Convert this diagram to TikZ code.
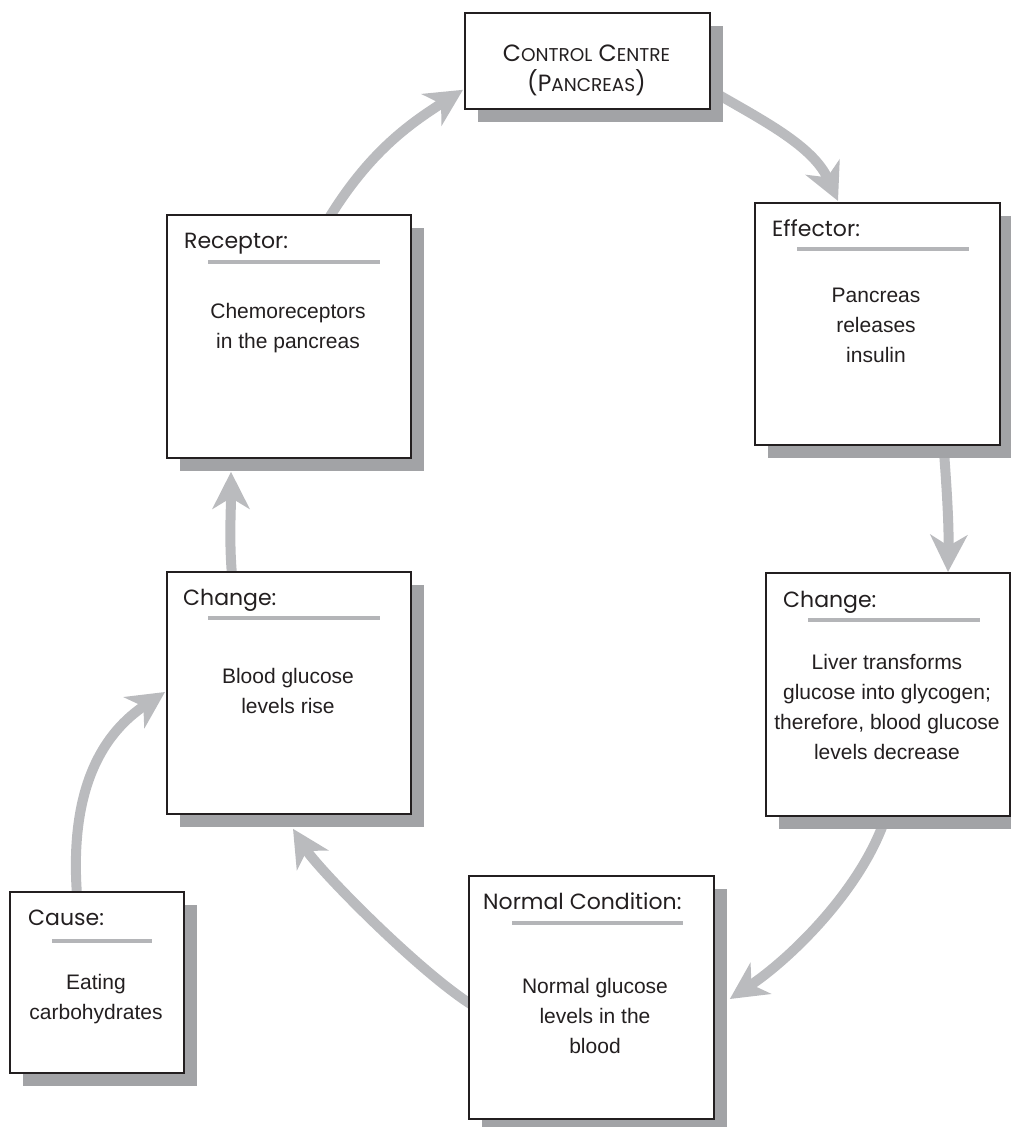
\documentclass[tikz,border=0pt]{standalone}
\usepackage{fontspec}
\setmainfont{Liberation Sans}
\newfontfamily\hdr{Poppins}
\usetikzlibrary{arrows.meta,shadows,backgrounds,calc}
\definecolor{arrowgray}{HTML}{BABBBE}
\definecolor{shgray}{HTML}{A2A3A6}
\definecolor{linegray}{HTML}{B4B5B8}
\definecolor{ink}{HTML}{231F20}
\newcommand{\fakesc}[2]{{\fontsize{23.5}{30}\selectfont #1}{\fontsize{18.5}{30}\selectfont #2}}
\begin{document}
\begin{tikzpicture}[x=1pt,y=-1pt,
  box/.style={draw=ink, line width=1.8pt, fill=white, anchor=north west, inner sep=0pt,
    drop shadow={shadow xshift=13pt, shadow yshift=-13pt, fill=shgray, opacity=1}},
  hd/.style={anchor=base west, inner sep=0pt, font=\hdr\fontsize{22}{26}\selectfont, text=ink},
  bd/.style={align=center, inner sep=0pt, font=\fontsize{21}{30}\selectfont, text=ink},
  rulegray/.style={draw=linegray, line width=4pt},
  flow/.style={draw=arrowgray, line width=10pt, -{Stealth[length=37pt,width=37pt,inset=11pt]}}
]
\useasboundingbox (0,0) rectangle (1011,1127);

% boxes
\node[box, minimum width=245pt, minimum height=96pt] (cc) at (464,12) {};
\node[box, minimum width=244pt, minimum height=243pt] (rec) at (166,214) {};
\node[box, minimum width=245pt, minimum height=242pt] (eff) at (754,202) {};
\node[box, minimum width=244pt, minimum height=243pt] (chR) at (765,572) {};
\node[box, minimum width=244pt, minimum height=242pt] (chL) at (166,571) {};
\node[box, minimum width=245pt, minimum height=243pt] (nc) at (468,875) {};
\node[box, minimum width=174pt, minimum height=181pt] (cause) at (9,891) {};

% control centre text
\node[align=center, inner sep=0pt, font=\hdr\fontsize{23.5}{30}\selectfont, text=ink] (cct) at ($(cc.north west)+(122.5,58)$)
  {\fakesc{C}{ONTROL} \fakesc{C}{ENTRE}\\(\fakesc{P}{ANCREAS})};

% receptor
\node[hd] (rech) at ($(rec.north west)+(18,34)$) {Receptor:};
\draw[rulegray] ($(rec.north west)+(42,48)$) -- ++(172,0);
\node[bd] (recb) at ($(rec.north west)+(122,114)$) {Chemoreceptors\\in the pancreas};

% effector
\node[hd] (effh) at ($(eff.north west)+(18,34)$) {Effector:};
\draw[rulegray] ($(eff.north west)+(43,47)$) -- ++(172,0);
\node[bd] (effb) at ($(eff.north west)+(122,123)$) {Pancreas\\releases\\insulin};

% change right
\node[hd] (chRh) at ($(chR.north west)+(18,35)$) {Change:};
\draw[rulegray] ($(chR.north west)+(43,48)$) -- ++(172,0);
\node[bd] (chRb) at ($(chR.north west)+(122,135)$) {Liver transforms\\glucose into glycogen;\\therefore, blood glucose\\levels decrease};

% change left
\node[hd] (chLh) at ($(chL.north west)+(17,34)$) {Change:};
\draw[rulegray] ($(chL.north west)+(42,47)$) -- ++(172,0);
\node[bd] (chLb) at ($(chL.north west)+(122,120)$) {Blood glucose\\levels rise};

% normal condition
\node[hd] (nch) at ($(nc.north west)+(15,34)$) {Normal Condition:};
\draw[rulegray] ($(nc.north west)+(44,48)$) -- ++(171,0);
\node[bd] (ncb) at ($(nc.north west)+(127,141)$) {Normal glucose\\levels in the\\blood};

% cause
\node[hd] (causeh) at ($(cause.north west)+(19,34)$) {Cause:};
\draw[rulegray] ($(cause.north west)+(43,50)$) -- ++(100,0);
\node[bd] (causeb) at ($(cause.north west)+(87,108)$) {Eating\\carbohydrates};

% arrows
\begin{scope}[on background layer]
\draw[flow] ($(rec.north west)+(163,4)$) .. controls +(40,-65) and +(-55,35) .. ($(cc.south west)+(-1,-20)$);
\draw[flow] ($(cc.north east)+(3,80)$) .. controls +(50,29) and +(-25,-55) .. ($(eff.north west)+(84,-1)$);
\draw[flow] ($(eff.south west)+(190,6)$) .. controls +(3,40) and +(1,-45) .. ($(chR.north west)+(183,0)$);
\draw[flow] ($(chR.south west)+(119,5)$) .. controls +(-25,70) and +(60,-40) .. ($(nc.north east)+(15,124)$);
\draw[flow] ($(nc.north west)+(4,130)$) .. controls +(-55,-35) and +(25,40) .. ($(chL.south west)+(127,14)$);
\draw[flow] ($(chL.north west)+(66,4)$) .. controls +(-3,-35) and +(0,40) .. ($(rec.south west)+(65,13)$);
\draw[flow] ($(cause.north west)+(68,4)$) .. controls +(-8,-110) and +(-60,40) .. ($(chL.north west)+(-1,121)$);
\end{scope}
\end{tikzpicture}
\end{document}
